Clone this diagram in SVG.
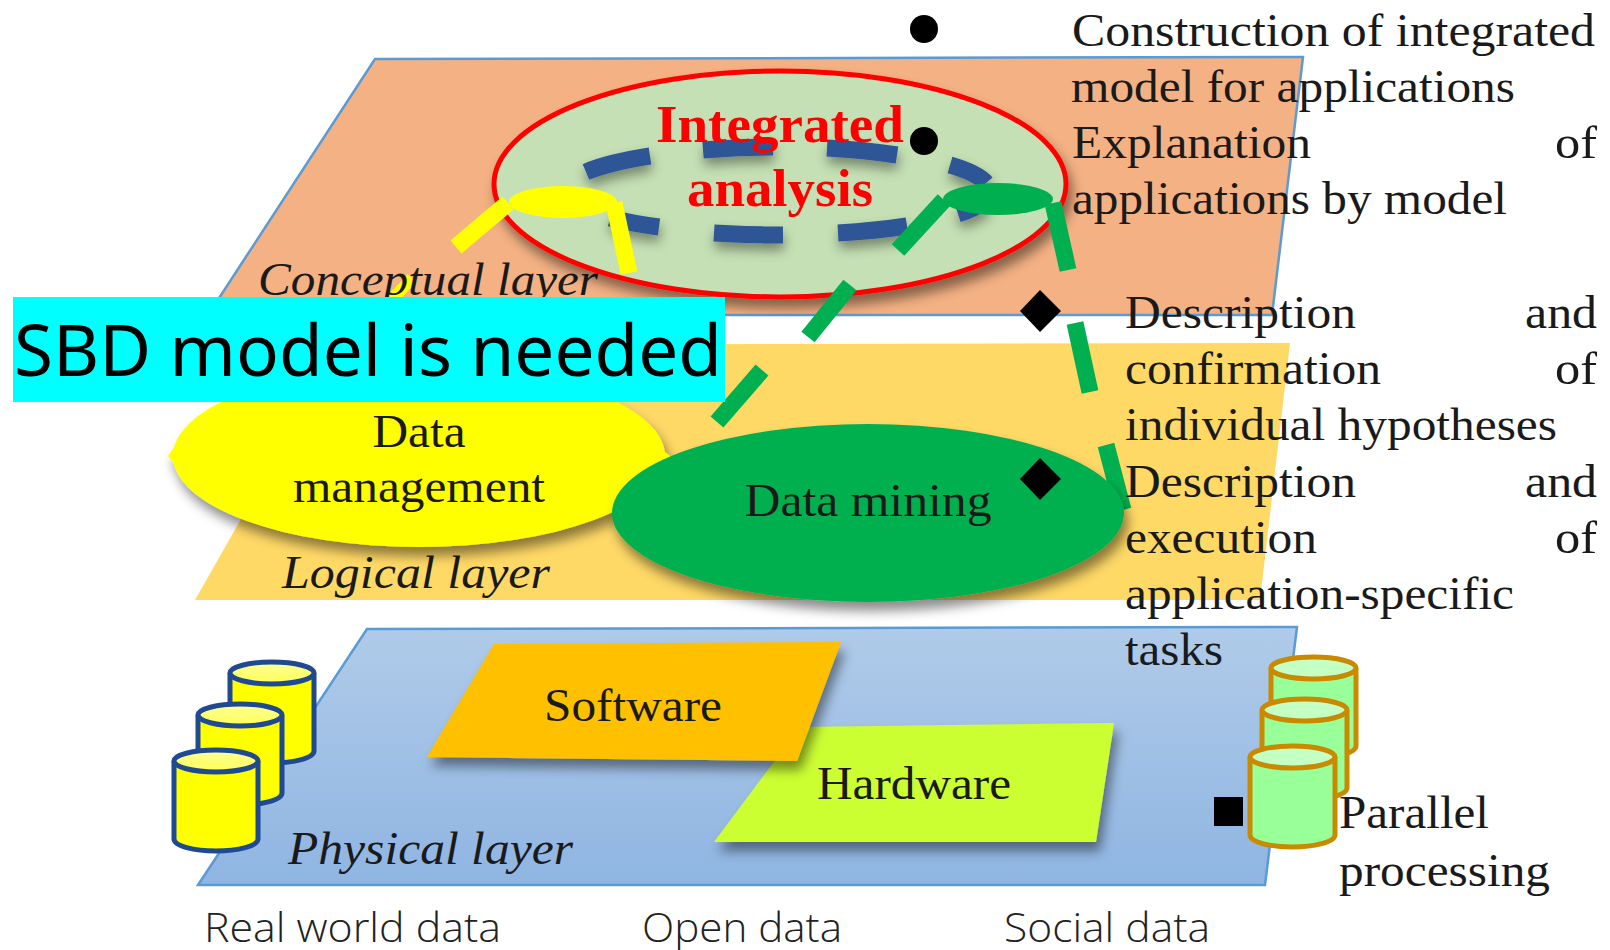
<svg xmlns="http://www.w3.org/2000/svg" width="1610" height="950" viewBox="0 0 1610 950">
<defs>
<linearGradient id="gB" x1="0" y1="0" x2="0" y2="1"><stop offset="0" stop-color="#b0cbe9"/><stop offset="1" stop-color="#8fb5e2"/></linearGradient>
<linearGradient id="rimY" x1="0" y1="0" x2="0" y2="1"><stop offset="0" stop-color="#ffff99"/><stop offset="1" stop-color="#ffff55"/></linearGradient>
<filter id="sh" x="-20%" y="-20%" width="140%" height="150%"><feDropShadow dx="4" dy="9" stdDeviation="6" flood-color="#000" flood-opacity="0.45"/></filter>
<filter id="shs" x="-20%" y="-40%" width="140%" height="200%"><feDropShadow dx="1" dy="7" stdDeviation="6" flood-color="#000" flood-opacity="0.4"/></filter>
<g id="cylY"><path d="M0 12V90C0 97 20 102 42 102S84 97 84 90V12Z" fill="#ffff00"/><path d="M0 12V90C0 97 20 102 42 102S84 97 84 90V12" fill="none" stroke="#1f4a92" stroke-width="5"/><ellipse cx="42" cy="12" rx="42" ry="11" fill="url(#rimY)" stroke="#1f4a92" stroke-width="5"/></g>
<g id="cylG"><path d="M0 12V90C0 97 20 102 42 102S85 97 85 90V12Z" fill="#99ff99"/><path d="M0 12V90C0 97 20 102 42 102S85 97 85 90V12" fill="none" stroke="#c98a00" stroke-width="5"/><ellipse cx="42.500" cy="12" rx="42.500" ry="11" fill="#c4ffc4" stroke="#c98a00" stroke-width="5"/></g>
</defs>
<style>
.s{font-family:"Liberation Serif","Times New Roman",serif;font-size:46px;fill:#1a1a1a}
.i{font-style:italic}
.r{font-family:"Liberation Serif",serif;font-weight:700;font-size:53px;fill:#f00;text-anchor:middle}
.o{font-family:"Open Sans","Noto Sans",sans-serif;font-weight:300;font-size:40px;fill:#222}
.d{fill:none;stroke:#2f5496;stroke-width:17}
.gl{stroke:#00b050;stroke-width:17;fill:none}
.yl{stroke:#ffff00;stroke-width:17;fill:none}
</style>
<g id="conceptual-layer"><polygon points="375,59 1303,57 1272,315 208,315" fill="#f4b183" stroke="#5b9bd5" stroke-width="2.500"/>
<path d="M412 278L390 302" stroke="#ffff00" stroke-width="12" fill="none"/>
<text class="s i" x="258" y="295" textLength="340" lengthAdjust="spacingAndGlyphs">Conceptual layer</text></g>
<g id="logical-layer"><polygon points="340,345 1290,343 1260,600 195,600" fill="#ffd966"/>
<text class="s i" x="282" y="588" textLength="268" lengthAdjust="spacingAndGlyphs">Logical layer</text></g>
<g id="physical-layer"><polygon points="367,629 1297,627 1265,885 198,885" fill="url(#gB)" stroke="#5b9bd5" stroke-width="2.500"/>
<text class="s i" x="288" y="864" textLength="285" lengthAdjust="spacingAndGlyphs">Physical layer</text></g>
<g id="integrated-analysis"><ellipse cx="780" cy="184" rx="286" ry="113" fill="#c5e0b4" stroke="#f00" stroke-width="5" filter="url(#sh)"/></g>
<g id="connectors">
<g filter="url(#shs)">
<path class="d" d="M586 172A212 44 0 0 1 650 156"/>
<path class="d" d="M703 150A212 44 0 0 1 773 147"/>
<path class="d" d="M827 148A212 44 0 0 1 897 155"/>
<path class="d" d="M950 165A212 44 0 0 1 986 183"/>
<path class="d" d="M610 218A212 44 0 0 0 659 227"/>
<path class="d" d="M714 233A212 44 0 0 0 783 235"/>
<path class="d" d="M838 233A212 44 0 0 0 907 226"/>
<path class="d" d="M958 214A212 44 0 0 0 985 201"/>
</g>
<path class="yl" d="M508 203L456 247"/>
<path class="yl" d="M614 203L629 273"/>
<path class="gl" d="M944 200L898 250"/>
<path class="gl" d="M850 285L808 337"/>
<path class="gl" d="M762 370L717 422"/>
<path class="gl" d="M1053 203L1068 270"/>
<path class="gl" d="M1075 323L1090 392"/>
<path class="gl" d="M1106 445L1123 510"/>
</g>
<g id="yellow-node"><ellipse cx="563" cy="202" rx="54" ry="16" fill="#ffff00"/></g>
<g id="green-node"><ellipse cx="998" cy="199" rx="55" ry="16" fill="#00b050"/></g>
<g id="data-management"><g filter="url(#sh)"><ellipse cx="419" cy="456" rx="246" ry="91" fill="#ffff00"/><polygon points="175,446 168,456 176,466 180,456" fill="#ffff00"/><polygon points="658,446 671,457 660,464" fill="#ffff00"/></g>
<text class="s" x="419" y="447" text-anchor="middle" textLength="93" lengthAdjust="spacingAndGlyphs">Data</text><text class="s" x="419" y="502" text-anchor="middle" textLength="252" lengthAdjust="spacingAndGlyphs">management</text></g>
<g id="data-mining"><ellipse cx="868" cy="513" rx="256" ry="89" fill="#00b050" filter="url(#sh)"/>
<text class="s" x="868" y="516" text-anchor="middle" textLength="247" lengthAdjust="spacingAndGlyphs">Data mining</text></g>
<g id="integrated-label"><text class="r" x="780" y="142" textLength="248" lengthAdjust="spacingAndGlyphs">Integrated</text><text class="r" x="780" y="206" textLength="186" lengthAdjust="spacingAndGlyphs">analysis</text></g>
<g id="hardware"><polygon points="714,842 800,727 1114,723 1096,842" fill="#ccff33" filter="url(#sh)"/><text class="s" x="914" y="799" text-anchor="middle" textLength="194" lengthAdjust="spacingAndGlyphs">Hardware</text></g>
<g id="software"><polygon points="427,757 494,644 841,642 797,761" fill="#ffc000" filter="url(#sh)"/><text class="s" x="633" y="721" text-anchor="middle" textLength="178" lengthAdjust="spacingAndGlyphs">Software</text></g>
<g id="real-world-data"><use href="#cylY" x="230" y="661"/><use href="#cylY" x="198" y="703"/><use href="#cylY" x="174" y="749"/></g>
<g id="parallel-data"><use href="#cylG" x="1271" y="656"/><use href="#cylG" x="1262" y="698"/><use href="#cylG" x="1250" y="745"/></g>
<g id="bullets">
<circle cx="924" cy="29" r="14"/><circle cx="924" cy="141" r="14"/>
<polygon points="1040,290 1061,311 1040,332 1020,311"/><polygon points="1040,458 1061,479 1040,500 1020,479"/>
<rect x="1214" y="797" width="29" height="29"/>
</g>
<g id="descriptions">
<text class="s" x="1072" y="46" textLength="523" lengthAdjust="spacingAndGlyphs">Construction of integrated</text>
<text class="s" x="1071" y="102" textLength="444" lengthAdjust="spacingAndGlyphs">model for applications</text>
<text class="s" x="1072" y="158" textLength="239" lengthAdjust="spacingAndGlyphs">Explanation</text><text class="s" x="1555" y="158" textLength="42" lengthAdjust="spacingAndGlyphs">of</text>
<text class="s" x="1072" y="214" textLength="435" lengthAdjust="spacingAndGlyphs">applications by model</text>
<text class="s" x="1125" y="328" textLength="231" lengthAdjust="spacingAndGlyphs">Description</text><text class="s" x="1525" y="328" textLength="72" lengthAdjust="spacingAndGlyphs">and</text>
<text class="s" x="1125" y="384" textLength="256" lengthAdjust="spacingAndGlyphs">confirmation</text><text class="s" x="1555" y="384" textLength="42" lengthAdjust="spacingAndGlyphs">of</text>
<text class="s" x="1125" y="440" textLength="432" lengthAdjust="spacingAndGlyphs">individual hypotheses</text>
<text class="s" x="1125" y="497" textLength="231" lengthAdjust="spacingAndGlyphs">Description</text><text class="s" x="1525" y="497" textLength="72" lengthAdjust="spacingAndGlyphs">and</text>
<text class="s" x="1125" y="553" textLength="192" lengthAdjust="spacingAndGlyphs">execution</text><text class="s" x="1555" y="553" textLength="42" lengthAdjust="spacingAndGlyphs">of</text>
<text class="s" x="1125" y="609" textLength="389" lengthAdjust="spacingAndGlyphs">application-specific</text>
<text class="s" x="1125" y="665" textLength="98" lengthAdjust="spacingAndGlyphs">tasks</text>
<text class="s" x="1339" y="828" textLength="150" lengthAdjust="spacingAndGlyphs">Parallel</text>
<text class="s" x="1339" y="886" textLength="211" lengthAdjust="spacingAndGlyphs">processing</text>
</g>
<g id="data-labels">
<text class="o" x="204" y="942" textLength="297" lengthAdjust="spacingAndGlyphs">Real world data</text>
<text class="o" x="642" y="942" textLength="200" lengthAdjust="spacingAndGlyphs">Open data</text>
<text class="o" x="1004" y="942" textLength="206" lengthAdjust="spacingAndGlyphs">Social data</text>
</g>
<g id="callout"><rect x="13" y="297" width="712" height="105" fill="#00ffff"/>
<text x="14" y="376" font-family="'Noto Sans','Open Sans',sans-serif" font-size="72" fill="#000" textLength="708" lengthAdjust="spacingAndGlyphs">SBD model is needed</text></g>
</svg>
